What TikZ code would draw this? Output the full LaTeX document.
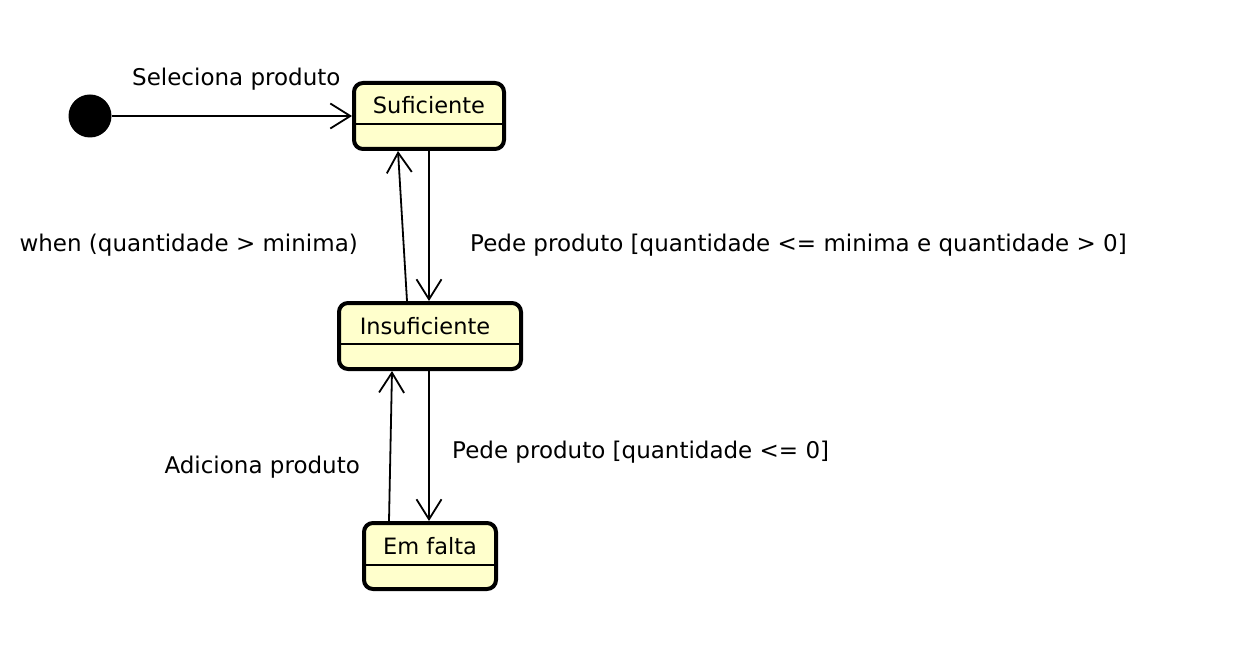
\documentclass[tikz,border=0pt]{standalone}
\usepackage{fontspec}
\setmainfont{DejaVu Sans}
\usetikzlibrary{arrows.meta}
\usetikzlibrary{positioning}

\definecolor{statefill}{RGB}{255,255,204}

\tikzset{
  state/.style={draw, line width=4pt, rounded corners=9pt, fill=statefill,
    inner sep=0pt, minimum height=66pt},
  statename/.style={anchor=base, inner sep=0pt, font=\fontsize{22.5}{26}\selectfont},
  initial/.style={circle, fill=black, minimum size=43pt, inner sep=0pt},
  trans/.style={line width=1.8pt, -{Straight Barb[length=20pt, width=25pt]}},
  translabel/.style={inner sep=0pt, font=\fontsize{23}{27}\selectfont},
}

\begin{document}
\begin{tikzpicture}[x=1pt, y=-1pt]

    \useasboundingbox (0,0) rectangle (1252,668);

    % states
    \node[state, minimum width=150pt] (suf) at (429,116) {};
    \node[state, minimum width=182pt] (ins) at (430,336) {};
    \node[state, minimum width=132pt, below=150pt of ins] (fal) {};

    % compartments
    \draw[line width=1.5pt] ([yshift=-43pt]suf.north west) -- ([yshift=-43pt]suf.north east);
    \draw[line width=1.5pt] ([yshift=-43pt]ins.north west) -- ([yshift=-43pt]ins.north east);
    \draw[line width=1.5pt] ([yshift=-44pt]fal.north west) -- ([yshift=-44pt]fal.north east);

    % state names
    \node[statename] (suf-name) at ([yshift=-33pt]suf.north) {Suficiente};
    \node[statename] (ins-name) at ([xshift=-5pt, yshift=-33pt]ins.north) {Insuficiente};
    \node[statename] (fal-name) at ([yshift=-33pt]fal.north) {Em falta};

    % initial state
    \node[initial] (init) at (90,116) {};
    \draw[trans] (init) -- (suf);
    \node[translabel, anchor=base west] (sel-label) at (132,86) {Seleciona produto};

    % suficiente <-> insuficiente
    \draw[trans] (suf.south) -- (suf.south |- ins.north);
    \draw[trans] ([xshift=-23pt]ins.north) -- ([xshift=-31pt]suf.south);
    \node[translabel, anchor=base east] (when-label) at (358,252) {when (quantidade > minima)};
    \node[translabel, anchor=base west] (pede-min-label) at (470,252) {Pede produto [quantidade <= minima e quantidade > 0]};

    % insuficiente <-> em falta
    \draw[trans] ([xshift=-1pt]ins.south) -- ([xshift=-1pt]fal.north);
    \draw[trans] ([xshift=-41pt]fal.north) -- ([xshift=-38pt]ins.south);
    \node[translabel, anchor=base west] (pede-zero-label) at (452,458) {Pede produto [quantidade <= 0]};
    \node[translabel, anchor=base east] (add-label) at (360,473) {Adiciona produto};

\end{tikzpicture}
\end{document}
